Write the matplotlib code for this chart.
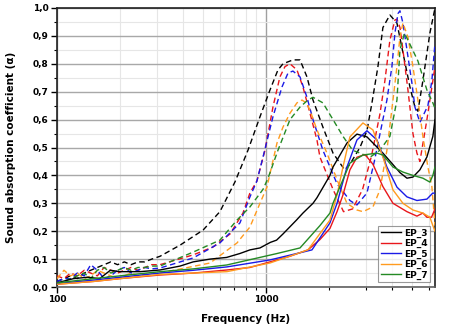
import matplotlib
matplotlib.use("Agg")
import matplotlib.pyplot as plt
from matplotlib.ticker import FixedLocator, NullFormatter, FuncFormatter

# ---------------- data ----------------
labels = ["EP_3", "EP_4", "EP_5", "EP_6", "EP_7"]
colors = ["#000000", "#e8161b", "#1a1ae6", "#ff9b1f", "#248a24"]

f_low = [100, 108, 116, 125, 135, 145, 156, 168, 181, 195, 210, 226, 244, 263, 284]

# solid curves
ep3_f = [100, 120, 140, 160, 180, 200, 250, 311, 388, 448, 540, 648, 750, 838, 936, 1050, 1124, 1206, 1400, 1503, 1679, 1754, 2024, 2093, 2441, 2725, 3043, 3627, 4377, 4728, 5050, 5453, 5891, 6290, 6440]
ep3_a = [0.015, 0.03, 0.035, 0.03, 0.06, 0.055, 0.055, 0.061, 0.075, 0.09, 0.10, 0.106, 0.12, 0.133, 0.14, 0.16, 0.168, 0.19, 0.24, 0.265, 0.30, 0.32, 0.40, 0.43, 0.516, 0.548, 0.538, 0.48, 0.41, 0.39, 0.394, 0.42, 0.466, 0.54, 0.60]

ep4_f = [100, 150, 200, 311, 450, 650, 838, 1045, 1300, 1588, 1812, 2024, 2188, 2336, 2522, 2725, 2977, 3250, 3627, 4053, 4728, 5277, 5636, 5891, 6200, 6440]
ep4_a = [0.01, 0.02, 0.03, 0.043, 0.05, 0.061, 0.07, 0.09, 0.11, 0.133, 0.17, 0.21, 0.27, 0.33, 0.42, 0.465, 0.475, 0.44, 0.36, 0.30, 0.27, 0.254, 0.265, 0.25, 0.25, 0.28]

ep5_f = [100, 150, 200, 311, 450, 650, 1045, 1660, 2024, 2188, 2441, 2725, 3043, 3397, 3791, 4234, 4728, 5277, 5891, 6290, 6440]
ep5_a = [0.012, 0.025, 0.035, 0.05, 0.06, 0.072, 0.097, 0.133, 0.23, 0.30, 0.43, 0.527, 0.56, 0.527, 0.43, 0.358, 0.323, 0.31, 0.315, 0.337, 0.335]

ep6_f = [100, 150, 200, 311, 450, 650, 1045, 1588, 2024, 2188, 2336, 2522, 2911, 3250, 3627, 4053, 4523, 5050, 5636, 6087, 6290, 6440]
ep6_a = [0.01, 0.02, 0.03, 0.045, 0.05, 0.055, 0.086, 0.133, 0.24, 0.33, 0.43, 0.538, 0.588, 0.563, 0.466, 0.348, 0.30, 0.276, 0.265, 0.25, 0.22, 0.20]

ep7_f = [100, 150, 200, 311, 450, 650, 1129, 1455, 1812, 2024, 2093, 2522, 2911, 3397, 3627, 4053, 4523, 5050, 5636, 6087, 6290, 6440]
ep7_a = [0.015, 0.03, 0.04, 0.055, 0.065, 0.079, 0.12, 0.14, 0.22, 0.265, 0.30, 0.444, 0.473, 0.48, 0.473, 0.43, 0.412, 0.40, 0.39, 0.376, 0.40, 0.43]

# dashed curves
ep3d_low = [0.02, 0.03, 0.04, 0.03, 0.05, 0.06, 0.07, 0.08, 0.09, 0.08, 0.09, 0.08, 0.09, 0.09, 0.10]
ep3d_f = [311, 388, 500, 602, 711, 820, 936, 1045, 1141, 1206, 1346, 1455, 1571, 1679, 1873, 2093, 2380, 2522, 2816, 3043, 3215, 3434, 3627, 3918, 4234, 4523, 4886, 5162, 5335, 5636, 6087, 6440]
ep3d_a = [0.11, 0.15, 0.204, 0.27, 0.377, 0.49, 0.61, 0.706, 0.778, 0.80, 0.814, 0.814, 0.753, 0.67, 0.573, 0.48, 0.42, 0.44, 0.50, 0.56, 0.66, 0.79, 0.93, 0.975, 0.946, 0.84, 0.717, 0.645, 0.63, 0.74, 0.91, 1.0]

ep4d_low = [0.04, 0.03, 0.05, 0.04, 0.06, 0.05, 0.04, 0.07, 0.06, 0.05, 0.06, 0.07, 0.06, 0.07, 0.08]
ep4d_f = [311, 448, 557, 673, 776, 838, 905, 989, 1080, 1166, 1233, 1303, 1407, 1503, 1624, 1754, 1812, 2093, 2350, 2600, 2900, 3200, 3510, 3709, 3918, 4141, 4234, 4377, 4523, 4780, 5050, 5277, 5453, 5891, 6440]
ep4d_a = [0.08, 0.115, 0.143, 0.19, 0.265, 0.337, 0.38, 0.49, 0.645, 0.753, 0.79, 0.80, 0.778, 0.717, 0.623, 0.527, 0.466, 0.35, 0.27, 0.28, 0.35, 0.47, 0.62, 0.74, 0.885, 0.957, 0.96, 0.93, 0.85, 0.706, 0.55, 0.48, 0.45, 0.60, 0.79]

ep5d_low = [0.02, 0.03, 0.03, 0.05, 0.04, 0.08, 0.06, 0.03, 0.04, 0.06, 0.07, 0.05, 0.06, 0.07, 0.065]
ep5d_f = [311, 448, 602, 751, 838, 905, 968, 1080, 1193, 1275, 1346, 1455, 1571, 1679, 1873, 2188, 2522, 2725, 3043, 3300, 3791, 4006, 4141, 4283, 4377, 4523, 4728, 4995, 5162, 5453, 5955, 6222, 6440]
ep5d_a = [0.068, 0.104, 0.158, 0.23, 0.323, 0.38, 0.466, 0.61, 0.717, 0.767, 0.774, 0.753, 0.68, 0.60, 0.49, 0.37, 0.31, 0.294, 0.337, 0.45, 0.67, 0.79, 0.91, 0.98, 0.99, 0.946, 0.85, 0.73, 0.645, 0.59, 0.65, 0.74, 0.875]

ep6d_low = [0.03, 0.06, 0.04, 0.05, 0.03, 0.04, 0.06, 0.05, 0.04, 0.03, 0.04, 0.05, 0.04, 0.045, 0.05]
ep6d_f = [311, 540, 727, 838, 936, 1011, 1129, 1206, 1303, 1407, 1487, 1560, 1624, 1754, 1958, 2200, 2441, 2725, 2911, 3250, 3510, 3791, 4053, 4234, 4377, 4523, 4780, 5050, 5335, 5636, 5955, 6222, 6440]
ep6d_a = [0.05, 0.086, 0.158, 0.215, 0.30, 0.358, 0.516, 0.573, 0.623, 0.66, 0.67, 0.66, 0.634, 0.563, 0.48, 0.38, 0.30, 0.276, 0.27, 0.287, 0.348, 0.49, 0.67, 0.79, 0.896, 0.946, 0.896, 0.79, 0.67, 0.54, 0.43, 0.36, 0.22]

ep7d_low = [0.01, 0.02, 0.03, 0.04, 0.05, 0.03, 0.06, 0.07, 0.05, 0.06, 0.07, 0.06, 0.07, 0.07, 0.075]
ep7d_f = [311, 448, 602, 727, 838, 968, 1023, 1141, 1303, 1455, 1588, 1679, 1873, 2093, 2336, 2600, 2816, 3145, 3510, 3918, 4234, 4377, 4600, 4886, 5335, 5891, 6290, 6440]
ep7d_a = [0.075, 0.125, 0.168, 0.24, 0.287, 0.35, 0.39, 0.49, 0.60, 0.645, 0.67, 0.68, 0.66, 0.60, 0.54, 0.49, 0.48, 0.465, 0.49, 0.54, 0.67, 0.85, 0.91, 0.87, 0.81, 0.706, 0.66, 0.64]

yticks = [0.0, 0.1, 0.2, 0.3, 0.4, 0.5, 0.6, 0.7, 0.8, 0.9, 1.0]
xticks = [100, 1000]

# ---------------- figure ----------------
plt.rcParams["font.family"] = ["DejaVu Sans"]
plt.rcParams["font.weight"] = "bold"
fig = plt.figure(figsize=(4.5, 3.26), dpi=100)
ax = fig.add_axes([57 / 450, 39 / 326, 378 / 450, 279 / 326])

solid = [(ep3_f, ep3_a), (ep4_f, ep4_a), (ep5_f, ep5_a), (ep6_f, ep6_a), (ep7_f, ep7_a)]
dashed = [(ep3d_low, ep3d_f, ep3d_a), (ep4d_low, ep4d_f, ep4d_a), (ep5d_low, ep5d_f, ep5d_a),
          (ep6d_low, ep6d_f, ep6d_a), (ep7d_low, ep7d_f, ep7d_a)]

for (lo, fd, ad), c in zip(dashed, colors):
    ax.plot(list(f_low) + list(fd), list(lo) + list(ad), color=c, lw=1.0,
            ls=(0, (4, 2.5)), zorder=3)
for (fs, a), c, lab in zip(solid, colors, labels):
    ax.plot(fs, a, color=c, lw=1.0, label=lab, zorder=4)

ax.set_xscale("log")
ax.set_xlim(100, 6440)
ax.set_ylim(0, 1.0)

ax.xaxis.set_major_locator(FixedLocator(xticks))
ax.xaxis.set_minor_locator(FixedLocator([200, 300, 400, 500, 600, 700, 800, 900,
                                         2000, 3000, 4000, 5000, 6000]))
ax.xaxis.set_major_formatter(FuncFormatter(lambda v, p: f"{int(v)}"))
ax.xaxis.set_minor_formatter(NullFormatter())
ax.yaxis.set_major_locator(FixedLocator(yticks))
ax.yaxis.set_minor_locator(FixedLocator([0.05 + 0.1 * i for i in range(10)]))
ax.yaxis.set_major_formatter(FuncFormatter(lambda v, p: f"{v:.1f}".replace(".", ",")))

ax.grid(True, which="major", axis="y", color="#a8a8a8", lw=1.0, zorder=0)
ax.grid(True, which="minor", axis="y", color="#e6e6e6", lw=0.8, zorder=0)
ax.grid(True, which="major", axis="x", color="#a0a0a0", lw=1.0, zorder=0)
ax.grid(True, which="minor", axis="x", color="#e6e6e6", lw=0.8, zorder=0)

ax.tick_params(which="major", direction="out", length=4, width=1, labelsize=6.5, pad=2)
ax.tick_params(which="minor", direction="out", length=2.5, width=0.8)
for lab in ax.get_xticklabels() + ax.get_yticklabels():
    lab.set_fontweight("bold")

for s in ["top", "left", "right"]:
    ax.spines[s].set_linewidth(1.2)
    ax.spines[s].set_color("#202020")
ax.spines["bottom"].set_linewidth(1.2)
ax.spines["bottom"].set_color("#606060")

ax.set_xlabel("Frequency (Hz)", fontsize=7.5, fontweight="bold", labelpad=7)
ax.set_ylabel("Sound absorption coefficient (\u03b1)", fontsize=7.5, fontweight="bold", labelpad=12)

leg = ax.legend(loc="lower right", fontsize=6.5, frameon=True, fancybox=False,
                handlelength=2.2, handletextpad=0.4, borderpad=0.3, labelspacing=0.15,
                borderaxespad=0.5, prop={"weight": "bold", "size": 6.5})
leg.get_frame().set_edgecolor("#808080")
leg.get_frame().set_linewidth(0.8)

fig.savefig("out.png", dpi=100)
